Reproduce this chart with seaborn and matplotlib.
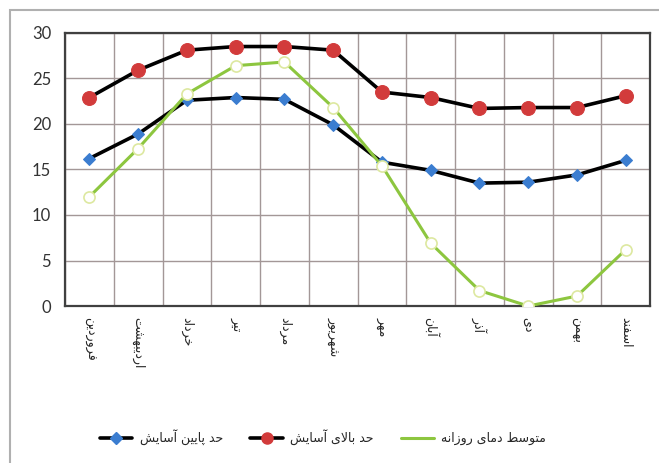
import pandas as pd
import matplotlib.pyplot as plt
import seaborn as sns
from matplotlib.lines import Line2D
from matplotlib.patches import Rectangle

months = ["فروردین", "اردیبهشت", "خرداد", "تیر", "مرداد", "شهریور",
          "مهر", "آبان", "آذر", "دی", "بهمن", "اسفند"]
comfort_low = [16.2, 18.9, 22.6, 22.9, 22.7, 19.9, 15.8, 14.9, 13.5, 13.6, 14.4, 16.0]
comfort_high = [22.9, 25.9, 28.1, 28.5, 28.5, 28.1, 23.5, 22.9, 21.7, 21.8, 21.8, 23.1]
daily_mean = [12.0, 17.3, 23.3, 26.4, 26.8, 21.8, 15.4, 6.9, 1.7, 0.0, 1.1, 6.2]
series_names = ["حد پایین آسایش", "حد بالای آسایش", "متوسط دمای روزانه"]

# matplotlib has no arabic shaping, so pick presentation forms by hand
FORMS = {
    "ا": ("\uFE8D", "\uFE8E"), "آ": ("\uFE81", "\uFE82"),
    "د": ("\uFEA9", "\uFEAA"), "ذ": ("\uFEAB", "\uFEAC"),
    "ر": ("\uFEAD", "\uFEAE"), "ز": ("\uFEAF", "\uFEB0"),
    "و": ("\uFEED", "\uFEEE"),
    "ب": ("\uFE8F", "\uFE90", "\uFE91", "\uFE92"),
    "پ": ("\uFB56", "\uFB57", "\uFB58", "\uFB59"),
    "ت": ("\uFE95", "\uFE96", "\uFE97", "\uFE98"),
    "ح": ("\uFEA1", "\uFEA2", "\uFEA3", "\uFEA4"),
    "خ": ("\uFEA5", "\uFEA6", "\uFEA7", "\uFEA8"),
    "س": ("\uFEB1", "\uFEB2", "\uFEB3", "\uFEB4"),
    "ش": ("\uFEB5", "\uFEB6", "\uFEB7", "\uFEB8"),
    "ط": ("\uFEC1", "\uFEC2", "\uFEC3", "\uFEC4"),
    "ف": ("\uFED1", "\uFED2", "\uFED3", "\uFED4"),
    "ل": ("\uFEDD", "\uFEDE", "\uFEDF", "\uFEE0"),
    "م": ("\uFEE1", "\uFEE2", "\uFEE3", "\uFEE4"),
    "ن": ("\uFEE5", "\uFEE6", "\uFEE7", "\uFEE8"),
    "ه": ("\uFEE9", "\uFEEA", "\uFEEB", "\uFEEC"),
    "ی": ("\uFBFC", "\uFBFD", "\uFBFE", "\uFBFF"),
}
LAM_ALEF = {"ا": ("\uFEFB", "\uFEFC"), "آ": ("\uFEF5", "\uFEF6")}


def shape(text):
    out = []
    i = 0
    n = len(text)
    while i < n:
        c = text[i]
        if c not in FORMS:
            out.append(c)
            i += 1
            continue
        prev = text[i - 1] if i > 0 else None
        join_prev = prev in FORMS and len(FORMS[prev]) == 4
        if c == "ل" and i + 1 < n and text[i + 1] in LAM_ALEF:
            lig = LAM_ALEF[text[i + 1]]
            out.append(lig[1] if join_prev else lig[0])
            i += 2
            continue
        nxt = text[i + 1] if i + 1 < n else None
        join_next = len(FORMS[c]) == 4 and nxt in FORMS
        f = FORMS[c]
        if join_prev and join_next:
            out.append(f[3])
        elif join_prev:
            out.append(f[1])
        elif join_next:
            out.append(f[2])
        else:
            out.append(f[0])
        i += 1
    return "".join(reversed(out))


df = pd.DataFrame({
    "idx": range(len(months)),
    "low": comfort_low,
    "high": comfort_high,
    "mean": daily_mean,
})

sns.set_theme(style="white")
plt.rcParams["font.family"] = ["Lato", "DejaVu Sans"]

fig = plt.figure(figsize=(6.59, 4.63), dpi=100)
ax = fig.add_axes([0.0986, 0.339, 0.888, 0.590])

sns.lineplot(data=df, x="idx", y="low", ax=ax, color="black", lw=2.6,
             marker="D", markersize=6.5, markerfacecolor="#3B7DD0",
             markeredgecolor="#3B7DD0", zorder=3)
sns.lineplot(data=df, x="idx", y="high", ax=ax, color="black", lw=2.6,
             marker="o", markersize=10, markerfacecolor="#D23B3B",
             markeredgecolor="#D23B3B", zorder=3)
sns.lineplot(data=df, x="idx", y="mean", ax=ax, color="#8DC63F", lw=2.2,
             marker="o", markersize=8, markerfacecolor="white",
             markeredgecolor="#DDE8A0", markeredgewidth=1.2, zorder=4)

ax.set_xlim(-0.5, len(months) - 0.5)
ax.set_ylim(0, 30)
ax.set_yticks(range(0, 31, 5))
ax.set_xticks(range(len(months)))
ax.set_xticks([k - 0.5 for k in range(len(months) + 1)], minor=True)
ax.set_xticklabels([shape(m) for m in months], rotation=270,
                   family=["DejaVu Sans"], fontsize=9)
ax.tick_params(axis="x", which="major", length=0, pad=8)
ax.tick_params(axis="x", which="minor", length=4, direction="inout",
               color="#707070")
ax.tick_params(axis="y", length=4, color="#707070", labelsize=12,
               labelcolor="#333333", pad=6)
ax.set_xlabel("")
ax.set_ylabel("")

ax.grid(False)
ax.grid(True, which="minor", axis="x", color="#A39797", lw=1)
ax.grid(True, which="major", axis="y", color="#A39797", lw=1)
for s in ax.spines.values():
    s.set_visible(True)
    s.set_color("#404040")
    s.set_linewidth(1.6)
    s.set_linestyle((0, (2.5, 1)))

handles = [
    Line2D([], [], color="black", lw=2.6, marker="D", markersize=6,
           markerfacecolor="#3B7DD0", markeredgecolor="#3B7DD0"),
    Line2D([], [], color="black", lw=2.6, marker="o", markersize=8,
           markerfacecolor="#D23B3B", markeredgecolor="#D23B3B"),
    Line2D([], [], color="#8DC63F", lw=2.2),
]
fig.legend(handles, [shape(s) for s in series_names], loc="center",
           bbox_to_anchor=(0.49, 0.056), ncol=3, frameon=False,
           prop={"family": ["DejaVu Sans"], "size": 9},
           handlelength=2.6, columnspacing=2.2, handletextpad=0.6)

fig.patches.append(Rectangle((10 / 659, -0.05), 1.0, 1 - 10 / 463 + 0.05,
                             transform=fig.transFigure, fill=False,
                             edgecolor="#B0B0B0", lw=1.5))

plt.savefig("out.png", dpi=100)
